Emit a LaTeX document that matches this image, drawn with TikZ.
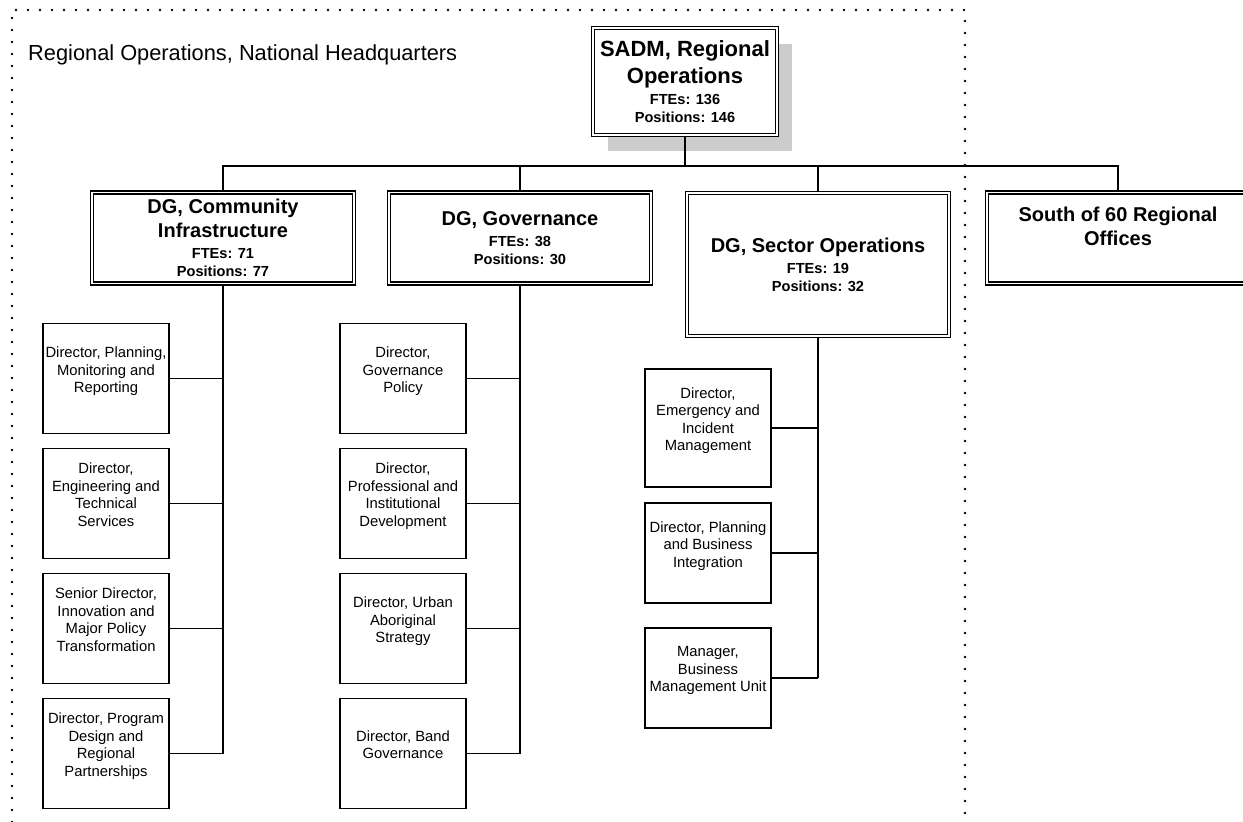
\documentclass[tikz,border=0pt]{standalone}
\usepackage{fontspec}
\setmainfont{Liberation Sans}
\usetikzlibrary{shadows}

\newcommand\statfont{\fontsize{14.6}{18}\selectfont}

\begin{document}
\begin{tikzpicture}[x=1pt, y=-1pt,
    headbox/.style={draw, double, double distance=1.4pt, line width=1.5pt, fill=white,
      align=center, inner sep=2pt, minimum width=262pt, minimum height=91pt,
      font=\fontsize{20}{24}\selectfont\bfseries},
    dirbox/.style={draw, line width=1.6pt, fill=white, align=center, inner sep=1pt,
      minimum width=126pt, minimum height=110pt, font=\fontsize{14.8}{17.5}\selectfont},
    bus/.style={line width=1.8pt},
    spine/.style={line width=2.4pt},
    link/.style={line width=1.6pt},
    frame/.style={line width=2.8pt, line cap=round, dash pattern=on 0pt off 12pt}]

  \useasboundingbox (0,0) rectangle (1243,822);

  \draw[frame] (12,822) -- (12,10) -- (965,10) -- (965,822);
  \node[anchor=base west, inner sep=0pt, font=\fontsize{21.8}{26}\selectfont] (region) at (28,60)
    {Regional Operations, National Headquarters};

  \node[headbox, minimum width=184pt, minimum height=107pt, font=\fontsize{22}{27}\selectfont\bfseries,
    drop shadow={shadow xshift=15pt, shadow yshift=-16pt, fill=black!20, opacity=1}] (sadm) at (685,81.5)
    {SADM, Regional\\Operations\\[-6pt]{\statfont FTEs: 136}\\[-9pt]{\statfont Positions: 146}};
  \coordinate (hub) at (685,166);

  \node[headbox] (dgci) at (223,238)
    {DG, Community\\Infrastructure\\[-3pt]{\statfont FTEs: 71}\\[-6pt]{\statfont Positions: 77}};
  \node[headbox] (dggov) at (520,238)
    {DG, Governance\\[-3pt]{\statfont FTEs: 38}\\[-6pt]{\statfont Positions: 30}};
  \node[headbox, minimum height=143pt] (dgsec) at (818,264.5)
    {DG, Sector Operations\\[-3pt]{\statfont FTEs: 19}\\[-6pt]{\statfont Positions: 32}};
  \node[headbox] (south) at (1118,238) {South of 60 Regional\\Offices\\~};

  \draw[bus] (sadm.south) -- (hub);
  \draw[bus] (dgci.north) |- (hub) -| (south.north);
  \draw[bus] (dggov.north) -- (dggov.north |- hub);
  \draw[bus] (dgsec.north) -- (dgsec.north |- hub);

  % Community Infrastructure
  \node[dirbox] (pmr) at (106,378.5) {Director, Planning,\\Monitoring and\\Reporting\\~};
  \node[dirbox] (ets) at (106,503.5) {Director,\\Engineering and\\Technical\\Services\\~};
  \node[dirbox] (impt) at (106,628.5) {Senior Director,\\Innovation and\\Major Policy\\Transformation\\~};
  \node[dirbox] (pdrp) at (106,753.5) {Director, Program\\Design and\\Regional\\Partnerships\\~};

  % Governance
  \node[dirbox] (gpol) at (403,378.5) {Director,\\Governance\\Policy\\~};
  \node[dirbox] (pid) at (403,503.5) {Director,\\Professional and\\Institutional\\Development\\~};
  \node[dirbox] (uas) at (403,628.5) {Director, Urban\\Aboriginal\\Strategy\\~};
  \node[dirbox] (bgov) at (403,753.5) {Director, Band\\Governance\\~};

  % Sector Operations
  \node[dirbox, minimum height=118pt] (eim) at (708,428) {Director,\\Emergency and\\Incident\\Management\\~};
  \node[dirbox, minimum height=100pt] (pbi) at (708,553) {Director, Planning\\and Business\\Integration\\~};
  \node[dirbox, minimum height=100pt] (bmu) at (708,678) {Manager,\\Business\\Management Unit\\~};

  \draw[spine] (dgci.south) -- (dgci.south |- pdrp.east);
  \foreach \n in {pmr,ets,impt,pdrp}
    \draw[link] (\n.east) -- (dgci.south |- \n.east);

  \draw[spine] (dggov.south) -- (dggov.south |- bgov.east);
  \foreach \n in {gpol,pid,uas,bgov}
    \draw[link] (\n.east) -- (dggov.south |- \n.east);

  \draw[spine] (dgsec.south) -- (dgsec.south |- bmu.east);
  \foreach \n in {eim,pbi,bmu}
    \draw[link] (\n.east) -- (dgsec.south |- \n.east);
\end{tikzpicture}
\end{document}
